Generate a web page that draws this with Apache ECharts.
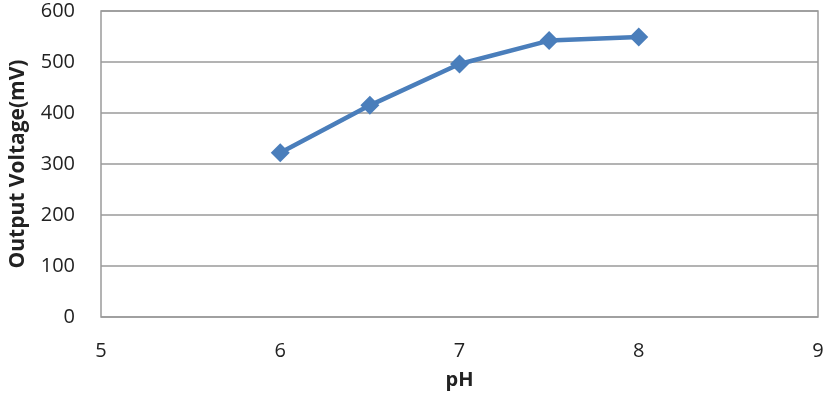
<!DOCTYPE html>
<html><head><meta charset="utf-8">
<script src="https://cdn.jsdelivr.net/npm/echarts@6/dist/echarts.min.js"></script>
<style>html,body{margin:0;padding:0;background:#fff}#c{width:827px;height:402px}</style>
</head><body><div id="c"></div>
<script>
const phValues = [6, 6.5, 7, 7.5, 8];
const voltageValues = [322, 415, 496, 542, 549];
const xTicks = [5, 6, 7, 8, 9];
const yTicks = [0, 100, 200, 300, 400, 500, 600];

const chart = echarts.init(document.getElementById('c'));
const font = 'Open Sans, Noto Sans, sans-serif';
chart.setOption({
  animation: false,
  grid: {left: 100, right: 9, top: 11, bottom: 85, show: true, borderColor: '#9a9a9a', borderWidth: 1.5},
  xAxis: {
    type: 'value', min: xTicks[0], max: xTicks[xTicks.length-1], interval: 1,
    name: 'pH', nameLocation: 'middle', nameGap: 53,
    nameTextStyle: {fontFamily: font, fontWeight: 'bold', fontSize: 20, color: '#222'},
    axisLine: {show: false}, axisTick: {show: false}, splitLine: {show: false},
    axisLabel: {margin: 24, fontFamily: font, fontSize: 20, color: '#222'}
  },
  yAxis: {
    type: 'value', min: yTicks[0], max: yTicks[yTicks.length-1], interval: 100,
    name: 'Output Voltage(mV)', nameLocation: 'middle', nameGap: 72,
    nameTextStyle: {fontFamily: font, fontWeight: 'bold', fontSize: 21, color: '#222'},
    axisLine: {show: false}, axisTick: {show: false},
    splitLine: {show: true, lineStyle: {color: '#9a9a9a', width: 1.5}},
    axisLabel: {margin: 26, fontFamily: font, fontSize: 20, color: '#222'}
  },
  series: [{
    type: 'line',
    data: phValues.map((x, i) => [x, voltageValues[i]]),
    symbol: 'diamond', symbolSize: 19,
    lineStyle: {color: '#4a7ebb', width: 4.5},
    itemStyle: {color: '#4a7ebb'}
  }]
});
</script></body></html>
